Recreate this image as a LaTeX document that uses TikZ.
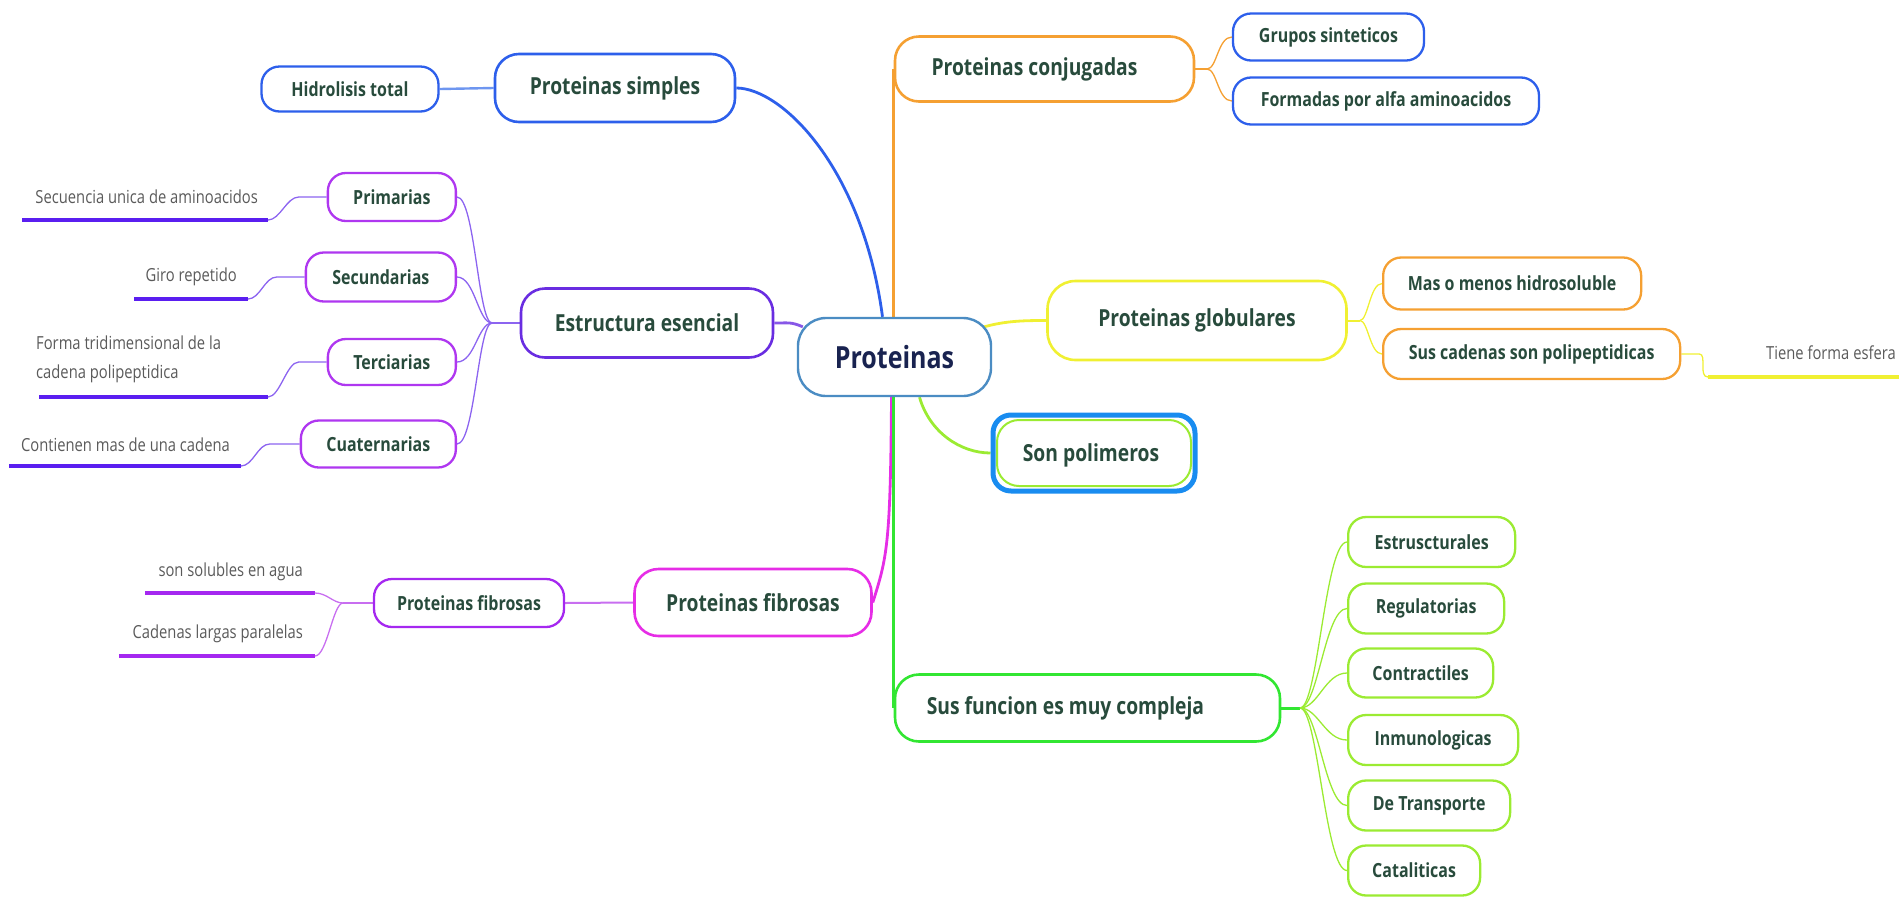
\documentclass[tikz,border=0pt]{standalone}
\usepackage{fontspec}
\usetikzlibrary{backgrounds,calc}
\newfontfamily\nf[FakeStretch=0.82]{Open Sans}
\definecolor{cblue}{RGB}{45,95,235}
\definecolor{clblue}{RGB}{110,150,240}
\definecolor{corange}{RGB}{245,160,50}
\definecolor{cpurple}{RGB}{105,45,225}
\definecolor{cviolet}{RGB}{175,55,240}
\definecolor{cvline}{RGB}{140,100,240}
\definecolor{culine}{RGB}{90,30,240}
\definecolor{cmag}{RGB}{230,45,230}
\definecolor{cfsub}{RGB}{165,40,240}
\definecolor{cfline}{RGB}{200,110,240}
\definecolor{cyel}{RGB}{240,240,50}
\definecolor{cgreen}{RGB}{50,230,50}
\definecolor{clgreen}{RGB}{155,235,50}
\definecolor{cpolb}{RGB}{25,140,240}
\definecolor{ccen}{RGB}{75,140,195}
\definecolor{ctxt}{RGB}{40,75,60}
\definecolor{ccentxt}{RGB}{25,35,80}
\definecolor{cleaf}{RGB}{90,90,90}
\tikzset{
  bigbox/.style={draw, fill=white, rounded corners=24pt, line width=2.6pt, inner sep=0pt, text=ctxt, font=\nf\bfseries\fontsize{23.5}{26}\selectfont},
  midbox/.style={draw, fill=white, rounded corners=18pt, line width=2.3pt, inner sep=0pt, text=ctxt, font=\nf\bfseries\fontsize{19.5}{22}\selectfont},
  leaftext/.style={inner sep=0pt, text=cleaf, font=\nf\fontsize{18}{29}\selectfont, align=left},
  uline/.style={line width=4.5pt},
  brmain/.style={line width=2.8pt},
  brthin/.style={line width=1.3pt},
}
\begin{document}
\begin{tikzpicture}[x=1pt,y=-1pt]
\useasboundingbox (0,0) rectangle (1899,898);

% central
\node[bigbox, draw=ccen, text=ccentxt, line width=2.4pt, rounded corners=28pt, minimum width=193pt, minimum height=78pt, font=\nf\bfseries\fontsize{30.5}{34}\selectfont] (cen) at (894.5,357) {Proteinas};

% top-left branch
\node[bigbox, draw=cblue, minimum width=240pt, minimum height=68pt] (simp) at (615,88) {Proteinas simples};
\node[midbox, draw=cblue, minimum width=177pt, minimum height=45pt] (hid) at (350,89) {Hidrolisis total};

% conjugadas
\node[bigbox, draw=corange, minimum width=299pt, minimum height=65pt] (conj) at (1044.5,69) {Proteinas conjugadas\hspace*{20pt}};
\node[midbox, draw=cblue, minimum width=191pt, minimum height=47pt] (grp) at (1328.5,37) {Grupos sinteticos};
\node[midbox, draw=cblue, minimum width=306pt, minimum height=47pt] (form) at (1386,101) {Formadas por alfa aminoacidos};

% estructura
\node[bigbox, draw=cpurple, minimum width=252pt, minimum height=69pt] (estr) at (647,323) {Estructura esencial};
\node[midbox, draw=cviolet, minimum width=128pt, minimum height=48pt, anchor=east] (pri) at (457,197) {Primarias};
\node[midbox, draw=cviolet, minimum width=150pt, minimum height=49pt, anchor=east] (sec) at (457,277) {Secundarias};
\node[midbox, draw=cviolet, minimum width=128pt, minimum height=46pt, anchor=east] (ter) at (457,362) {Terciarias};
\node[midbox, draw=cviolet, minimum width=155pt, minimum height=47pt, anchor=east] (cua) at (457,444) {Cuaternarias};

\coordinate (u1a) at (22,220); \coordinate (u1b) at (268,220);
\coordinate (u2a) at (134,299); \coordinate (u2b) at (248,299);
\coordinate (u3a) at (39,397); \coordinate (u3b) at (268,397);
\coordinate (u4a) at (9,466); \coordinate (u4b) at (241,466);
\node[leaftext, anchor=east] (l1) at (258,197) {Secuencia unica de aminoacidos};
\node[leaftext, anchor=east] (l2) at (237,277) {Giro repetido};
\node[leaftext, anchor=west] (l3) at (36,359) {Forma tridimensional de la\\cadena polipeptidica};
\node[leaftext, anchor=east] (l4) at (230,445) {Contienen mas de una cadena};

% fibrosas
\node[bigbox, draw=cmag, minimum width=237pt, minimum height=67pt] (fib) at (753,602.5) {Proteinas fibrosas};
\node[midbox, draw=cfsub, minimum width=190pt, minimum height=48pt] (fsub) at (469,603) {Proteinas fibrosas};
\coordinate (s1a) at (145,593); \coordinate (s1b) at (315,593);
\coordinate (s2a) at (119,656); \coordinate (s2b) at (315,656);
\node[leaftext, anchor=east] (f1) at (303,572) {son solubles en agua};
\node[leaftext, anchor=east] (f2) at (303,634) {Cadenas largas paralelas};

% globulares
\node[bigbox, draw=cyel, minimum width=299pt, minimum height=79pt, rounded corners=28pt] (glob) at (1197,320.5) {Proteinas globulares};
\node[midbox, draw=corange, minimum width=258pt, minimum height=52pt, anchor=west] (mas) at (1382,283.5) {Mas o menos hidrosoluble};
\node[midbox, draw=corange, minimum width=297pt, minimum height=50pt, anchor=west] (sus) at (1382,354) {Sus cadenas son polipeptidicas};
\coordinate (t1a) at (1708,377); \coordinate (t1b) at (1899,377);
\node[leaftext] (tf) at (1831,353) {Tiene forma esfera};

% son polimeros
\node[bigbox, draw=cpolb, line width=5pt, minimum width=202pt, minimum height=76pt, rounded corners=18pt] (pol) at (1094,453) {};
\draw[clgreen, line width=2pt, rounded corners=22pt] (997,420) rectangle (1191,486);
\node[inner sep=0pt, text=ctxt, font=\nf\bfseries\fontsize{23.5}{26}\selectfont] (polt) at (1091,455) {Son polimeros};

% funciones
\node[bigbox, draw=cgreen, minimum width=385pt, minimum height=67pt] (fun) at (1087.5,708) {Sus funcion es muy compleja\hspace*{44pt}};
\node[midbox, draw=clgreen, minimum width=167pt, minimum height=50pt, anchor=west] (g1) at (1347,542) {Estruscturales};
\node[midbox, draw=clgreen, minimum width=156pt, minimum height=50pt, anchor=west] (g2) at (1347,608.5) {Regulatorias};
\node[midbox, draw=clgreen, minimum width=145pt, minimum height=49pt, anchor=west] (g3) at (1347,673) {Contractiles};
\node[midbox, draw=clgreen, minimum width=170pt, minimum height=50pt, anchor=west] (g4) at (1347,740) {Inmunologicas};
\node[midbox, draw=clgreen, minimum width=162pt, minimum height=50pt, anchor=west] (g5) at (1347,805.5) {De Transporte};
\node[midbox, draw=clgreen, minimum width=132pt, minimum height=50pt, anchor=west] (g6) at (1347,870.5) {Cataliticas};

\coordinate (eb) at (492,323);
\coordinate (fb) at (343,603);
\coordinate (gb) at (1300,708);
\coordinate (yb) at (1360,320.5);
\coordinate (ob) at (1207,69);

\begin{pgfonlayer}{background}
% main branches
\draw[brmain, cblue] ([xshift=-12pt]cen.north) .. controls +(-20,-150) and +(45,0) .. (simp.east);
\draw[brmain, corange] (conj.west) -- (conj.west |- cen.north);
\draw[brmain, cmag] ([xshift=-3pt]cen.south) .. controls +(-1,150) and +(14,-45) .. (fib.east);
\draw[brmain, cgreen] (fun.west) -- (fun.west |- cen.south);
\draw[brmain, clgreen] ([xshift=25pt]cen.south) .. controls +(10,35) and +(-30,0) .. (pol.west);
\draw[brmain, cpurple!80] ([xshift=6pt,yshift=-10pt]cen.north west) .. controls +(-12,-5) and +(15,0) .. (estr.east);
\draw[brmain, cyel] ([xshift=-8pt,yshift=-10pt]cen.north east) .. controls +(22,-6) and +(-22,0) .. (glob.west);

% simples
\draw[line width=2.4pt, clblue] (hid.east) -- (simp.west);
% conjugadas
\draw[line width=2pt, corange] (conj.east) -- (ob);
\draw[brthin, corange] (ob) .. controls +(10,0) and +(-14,0) .. (grp.west);
\draw[brthin, corange] (ob) .. controls +(10,0) and +(-14,0) .. (form.west);
% estructura
\draw[line width=2pt, cvline] (estr.west) -- (eb);
\foreach \c in {pri,sec,ter,cua}{
  \draw[brthin, cvline] (eb) .. controls +(-14,0) and +(18,0) .. (\c.east);
}
\draw[brthin, cvline] (pri.west) -- +(-28,0) .. controls +(-12,0) and +(12,0) .. (u1b);
\draw[brthin, cvline] (sec.west) -- +(-28,0) .. controls +(-12,0) and +(12,0) .. (u2b);
\draw[brthin, cvline] (ter.west) -- +(-28,0) .. controls +(-12,0) and +(12,0) .. (u3b);
\draw[brthin, cvline] (cua.west) -- +(-30,0) .. controls +(-12,0) and +(12,0) .. (u4b);
\draw[uline, culine] (u1a) -- (u1b);
\draw[uline, culine] (u2a) -- (u2b);
\draw[uline, culine] (u3a) -- (u3b);
\draw[uline, culine] (u4a) -- (u4b);
% fibrosas
\draw[line width=2pt, cfline] (fib.west) -- (fsub.east);
\draw[line width=2pt, cfline] (fsub.west) -- (fb);
\draw[brthin, cfline] (fb) .. controls +(-10,0) and +(12,0) .. (s1b);
\draw[brthin, cfline] (fb) .. controls +(-10,0) and +(12,0) .. (s2b);
\draw[uline, cfsub] (s1a) -- (s1b);
\draw[uline, cfsub] (s2a) -- (s2b);
% globulares
\draw[line width=2pt, cyel] (glob.east) -- (yb);
\draw[brthin, cyel] (yb) .. controls +(8,0) and +(-12,0) .. (mas.west);
\draw[brthin, cyel] (yb) .. controls +(8,0) and +(-12,0) .. (sus.west);
\draw[brthin, cyel] (sus.east) -- +(18,0) .. controls +(8,0) and +(-10,0) .. (t1a);
\draw[uline, cyel] (t1a) -- (t1b);
% funciones
\draw[line width=3pt, cgreen] (fun.east) -- (gb);
\foreach \c in {g1,g2,g3,g4,g5,g6}{
  \draw[brthin, clgreen] (gb) .. controls +(18,0) and +(-22,0) .. (\c.west);
}
\end{pgfonlayer}
\end{tikzpicture}
\end{document}
